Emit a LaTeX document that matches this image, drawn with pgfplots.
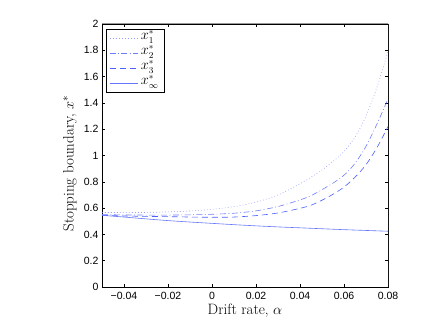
\documentclass[border=0pt]{standalone}
\usepackage{fontspec}
\usepackage{pgfplots}
\pgfplotsset{compat=1.18}
\newfontfamily\helv{Liberation Sans}
\definecolor{cone}{RGB}{150,160,252}
\definecolor{ctwo}{RGB}{110,125,251}
\definecolor{cthree}{RGB}{75,95,250}
\definecolor{cinf}{RGB}{100,118,251}

\begin{document}
\begin{tikzpicture}
\useasboundingbox (-102pt,-36pt) rectangle (327pt,287pt);
\begin{axis}[
  scale only axis, width=286pt, height=263pt,
  at={(0pt,0pt)}, anchor=south west,
  xmin=-0.05, xmax=0.08, ymin=0, ymax=2,
  scaled x ticks=false, scaled y ticks=false,
  xtick={-0.04,-0.02,0,0.02,0.04,0.06,0.08},
  xticklabels={−0.04,−0.02,0,0.02,0.04,0.06,0.08},
  ytick={0,0.2,0.4,0.6,0.8,1,1.2,1.4,1.6,1.8,2},
  yticklabels={0,0.2,0.4,0.6,0.8,1,1.2,1.4,1.6,1.8,2},
  tick label style={font=\helv\fontsize{10.5}{12}\selectfont},
  xticklabel style={yshift=-2pt},
  tick align=inside, major tick length=3pt,
  tick style={black, line width=0.5pt},
  axis line style={black, line width=0.6pt},
  xlabel={Drift rate, $\alpha$},
  ylabel={Stopping boundary, $x^*$},
  label style={font=\fontsize{15}{18}\selectfont},
  xlabel style={at={(axis description cs:0.5,-0.091)}, anchor=center},
  ylabel style={at={(axis description cs:-0.112,0.47)}, anchor=center},
  legend style={at={(axis description cs:0.014,0.981)}, anchor=north west,
    font=\fontsize{13.5}{15}\selectfont, row sep=3pt, inner xsep=3pt, inner ysep=3pt,
    nodes={inner ysep=0pt, inner xsep=3pt, text height=7.5pt, text depth=4.5pt}},
  legend cell align=left,
  legend image code/.code={\draw[#1] (0pt,0pt) -- (28pt,0pt);},
]
% x_1^*
\addplot[color=cone, draw=cone, line width=0.6pt, dash pattern=on 0.8pt off 2.2pt, smooth] coordinates {
(-0.05,0.567)(-0.04,0.566)(-0.03,0.567)(-0.02,0.571)(-0.01,0.578)(0,0.591)
(0.01,0.611)(0.02,0.645)(0.03,0.700)(0.04,0.785)(0.045,0.835)(0.05,0.890)
(0.055,0.955)(0.06,1.030)(0.065,1.140)(0.07,1.300)(0.075,1.520)(0.08,1.790)};
\addlegendentry{$x_1^*$}
% x_2^*
\addplot[color=ctwo, draw=ctwo, line width=0.6pt, dash pattern=on 6pt off 2.5pt on 0.8pt off 2.5pt, smooth] coordinates {
(-0.05,0.551)(-0.04,0.548)(-0.03,0.547)(-0.02,0.547)(-0.01,0.549)(0,0.553)
(0.01,0.561)(0.02,0.579)(0.03,0.612)(0.04,0.662)(0.045,0.695)(0.05,0.740)
(0.055,0.790)(0.06,0.850)(0.065,0.940)(0.07,1.070)(0.075,1.240)(0.08,1.430)};
\addlegendentry{$x_2^*$}
% x_3^*
\addplot[color=cthree, draw=cthree, line width=0.6pt, dash pattern=on 6pt off 4pt, smooth] coordinates {
(-0.05,0.545)(-0.04,0.540)(-0.03,0.537)(-0.02,0.535)(-0.01,0.532)(0,0.530)
(0.01,0.532)(0.02,0.543)(0.03,0.563)(0.04,0.598)(0.045,0.622)(0.05,0.660)
(0.055,0.705)(0.06,0.760)(0.065,0.835)(0.07,0.930)(0.075,1.060)(0.08,1.220)};
\addlegendentry{$x_3^*$}
% x_inf^*
\addplot[color=cinf, draw=cinf, line width=0.6pt, smooth] coordinates {
(-0.05,0.545)(-0.04,0.532)(-0.03,0.518)(-0.02,0.505)(-0.01,0.494)(0,0.484)
(0.01,0.474)(0.02,0.465)(0.03,0.457)(0.04,0.450)(0.05,0.443)(0.06,0.436)
(0.07,0.430)(0.08,0.424)};
\addlegendentry{$x_\infty^*$}
\draw[gray!80, line width=1pt] (rel axis cs:0,1) -- (rel axis cs:1,1) -- (rel axis cs:1,0);
\end{axis}
\end{tikzpicture}
\end{document}
